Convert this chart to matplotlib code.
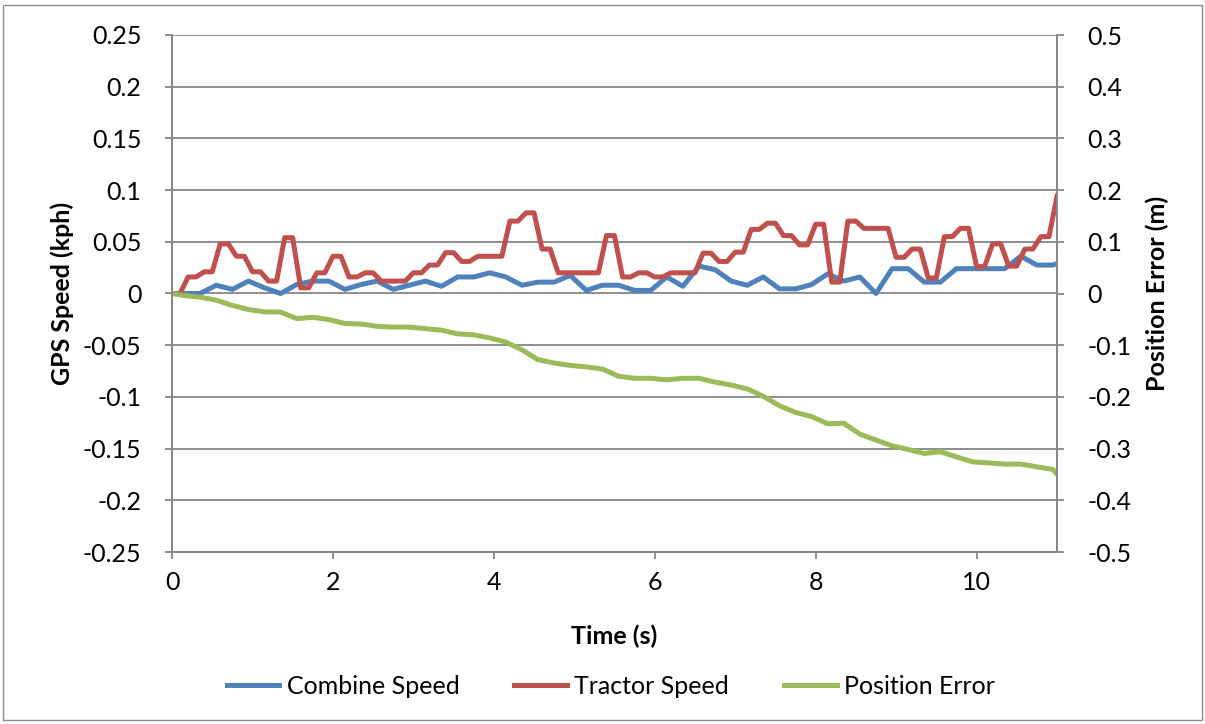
#!/usr/bin/env python3
"""
speed_error.py: GPS speed of the combine and tractor together with
the position error over an 11 second run.
"""

import matplotlib
matplotlib.use("Agg")
import matplotlib.pyplot as plt
from matplotlib.patches import Rectangle
from matplotlib.ticker import FuncFormatter, MultipleLocator
import numpy as np

plt.rcParams["font.family"] = ["Lato", "DejaVu Sans"]

# Tractor speed is logged every 0.1 s
TRACTOR_PERIOD = 0.1
TRACTOR_SPEED = [
    0, 0, 0.016, 0.016, 0.021, 0.021, 0.048, 0.048, 0.036, 0.036,
    0.021, 0.021, 0.012, 0.012, 0.054, 0.054, 0.0055, 0.0055, 0.020, 0.020,
    0.036, 0.036, 0.016, 0.016, 0.020, 0.020, 0.012, 0.012, 0.012, 0.012,
    0.020, 0.020, 0.0275, 0.0275, 0.0395, 0.0395, 0.031, 0.031, 0.036, 0.036,
    0.036, 0.036, 0.070, 0.070, 0.078, 0.078, 0.043, 0.043, 0.020, 0.020,
    0.020, 0.020, 0.020, 0.020, 0.056, 0.056, 0.016, 0.016, 0.020, 0.020,
    0.016, 0.016, 0.020, 0.020, 0.020, 0.020, 0.039, 0.039, 0.031, 0.031,
    0.040, 0.040, 0.062, 0.062, 0.068, 0.068, 0.056, 0.056, 0.047, 0.047,
    0.067, 0.067, 0.011, 0.011, 0.070, 0.070, 0.063, 0.063, 0.063, 0.063,
    0.035, 0.035, 0.043, 0.043, 0.015, 0.015, 0.055, 0.055, 0.063, 0.063,
    0.026, 0.026, 0.048, 0.048, 0.0265, 0.0265, 0.043, 0.043, 0.055, 0.055,
    0.094,
]

# Combine speed and position error share the 5 Hz time stamps
COMBINE_TIME = [
    0, 0.15, 0.35, 0.55, 0.75, 0.95, 1.15, 1.35, 1.55, 1.75, 1.95,
    2.15, 2.35, 2.55, 2.75, 2.95, 3.15, 3.35, 3.55, 3.75, 3.95,
    4.15, 4.35, 4.55, 4.75, 4.95, 5.15, 5.35, 5.55, 5.75, 5.95,
    6.15, 6.35, 6.55, 6.75, 6.95, 7.15, 7.35, 7.55, 7.75, 7.95,
    8.15, 8.35, 8.55, 8.75, 8.95, 9.15, 9.35, 9.55, 9.75, 9.95,
    10.15, 10.35, 10.55, 10.75, 10.95, 11.0,
]
COMBINE_SPEED = [
    0, 0, 0, 0.008, 0.004, 0.012, 0.0055, 0.0, 0.0087, 0.012, 0.012,
    0.004, 0.0087, 0.012, 0.004, 0.008, 0.012, 0.007, 0.016, 0.016, 0.020,
    0.016, 0.008, 0.011, 0.011, 0.0175, 0.003, 0.008, 0.008, 0.003, 0.003,
    0.016, 0.007, 0.0265, 0.023, 0.012, 0.008, 0.016, 0.0045, 0.0045, 0.0087,
    0.019, 0.012, 0.016, 0.0, 0.024, 0.024, 0.011, 0.011, 0.024, 0.024,
    0.024, 0.024, 0.036, 0.0275, 0.0275, 0.029,
]
POSITION_ERROR = [
    0, -0.004, -0.007, -0.013, -0.023, -0.031, -0.0355, -0.036, -0.0485, -0.046, -0.0505,
    -0.058, -0.059, -0.0635, -0.065, -0.065, -0.068, -0.071, -0.078, -0.080, -0.086,
    -0.094, -0.109, -0.128, -0.1346, -0.139, -0.142, -0.146, -0.160, -0.164, -0.164,
    -0.167, -0.164, -0.164, -0.1715, -0.177, -0.1845, -0.199, -0.217, -0.230, -0.238,
    -0.252, -0.251, -0.272, -0.2835, -0.2946, -0.3016, -0.3094, -0.306, -0.316, -0.3256,
    -0.3276, -0.330, -0.330, -0.3353, -0.3404, -0.3495,
]

BLUE = "#4F81BD"
RED = "#C0504D"
GREEN = "#9BBB59"
GRID = "#868686"
FONT_SIZE = 18
LINE_WIDTH = 3.6

# round away float noise so zero prints as "0"
tick_fmt = FuncFormatter(lambda v, pos: f"{round(v, 6):g}")


def style_axis(ax):
    """Excel-like grey spines and outward ticks."""
    for side in ("left", "right", "bottom", "top"):
        ax.spines[side].set_color(GRID)
        ax.spines[side].set_linewidth(1.3)
    ax.spines["top"].set_visible(False)
    ax.tick_params(direction="out", length=5, width=1.3, color=GRID,
                   labelsize=FONT_SIZE, labelcolor="black")


def main():
    tractor_time = np.arange(len(TRACTOR_SPEED)) * TRACTOR_PERIOD

    fig = plt.figure(figsize=(12.05, 7.24), dpi=100)
    fig.patches.append(Rectangle((3 / 1205, 4 / 724), 1199 / 1205, 715 / 724,
                                 transform=fig.transFigure, fill=False,
                                 edgecolor="#8c8c8c", linewidth=1.0))

    ax = fig.add_axes([172 / 1205, 1 - 552 / 724, 885 / 1205, 517 / 724])
    ax.plot(COMBINE_TIME, COMBINE_SPEED, color=BLUE, lw=LINE_WIDTH,
            label="Combine Speed", solid_joinstyle="round")
    ax.plot(tractor_time, TRACTOR_SPEED, color=RED, lw=LINE_WIDTH,
            label="Tractor Speed", solid_joinstyle="round")
    ax.set_xlim(0, 11)
    ax.set_ylim(-0.25, 0.25)
    ax.xaxis.set_major_locator(MultipleLocator(2))
    ax.yaxis.set_major_locator(MultipleLocator(0.05))
    ax.yaxis.set_major_formatter(tick_fmt)
    ax.grid(axis="y", color=GRID, lw=1.3)
    ax.set_axisbelow(True)
    style_axis(ax)
    ax.tick_params(axis="y", pad=17)
    ax.tick_params(axis="x", pad=9)
    ax.set_xlabel("Time (s)", fontsize=FONT_SIZE, fontweight="bold", labelpad=22)
    ax.set_ylabel("GPS Speed (kph)", fontsize=FONT_SIZE, fontweight="bold",
                  labelpad=6)

    ax2 = ax.twinx()
    ax2.plot(COMBINE_TIME, POSITION_ERROR, color=GREEN, lw=LINE_WIDTH,
             label="Position Error", solid_joinstyle="round")
    ax2.set_ylim(-0.5, 0.5)
    ax2.yaxis.set_major_locator(MultipleLocator(0.1))
    ax2.yaxis.set_major_formatter(tick_fmt)
    style_axis(ax2)
    ax2.tick_params(axis="y", pad=17)
    ax2.set_ylabel("Position Error (m)", fontsize=FONT_SIZE, fontweight="bold",
                   labelpad=10)

    handles = ax.get_lines() + ax2.get_lines()
    fig.legend(handles, [h.get_label() for h in handles], loc="center",
               bbox_to_anchor=(0.507, 0.052), ncol=3, frameon=False,
               fontsize=FONT_SIZE, handlelength=2.1, handletextpad=0.3,
               columnspacing=2.2)

    fig.savefig("out.png", dpi=100)


if __name__ == "__main__":
    main()
